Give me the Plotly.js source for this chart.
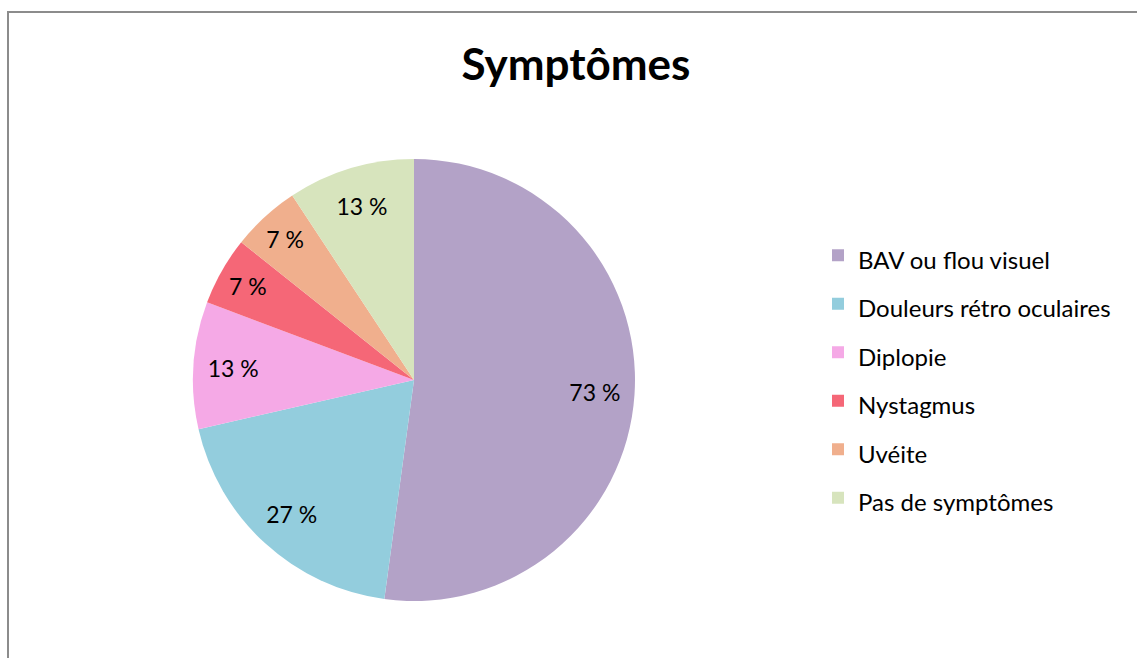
<!DOCTYPE html>
<html>
<head>
<meta charset="utf-8">
<script src="https://cdn.plot.ly/plotly-3.0.1.min.js"></script>
<style>
html,body{margin:0;padding:0;overflow:hidden;background:#fff;}
#chart{position:absolute;left:0;top:0;width:1137px;height:658px;}
#frame{position:absolute;left:7px;top:11px;width:1200px;height:700px;border:2px solid #8c8c8c;box-sizing:border-box;pointer-events:none;}
</style>
</head>
<body>
<div id="chart"></div>
<div id="frame"></div>
<script>
const labels = ["BAV ou flou visuel", "Douleurs rétro oculaires", "Diplopie", "Nystagmus", "Uvéite", "Pas de symptômes"];
const values = [73, 27, 13, 7, 7, 13];
const colors = ["#B3A2C7", "#93CDDD", "#F5A9E6", "#F56777", "#F0AF8D", "#D7E4BD"];
const valueTexts = values.map(v => v + " %");

const FONT = "Lato, 'Open Sans', sans-serif";
const legendLabels = labels.map(l => '<span style="font-size:24px">' + l + '</span>');
const pieDomain = {x: [193/1137, 635/1137], y: [1 - 601/658, 1 - 159/658]};

const slices = {
  type: "pie",
  labels: legendLabels,
  values: values,
  textinfo: "none",
  sort: false,
  direction: "clockwise",
  rotation: 0,
  marker: {colors: colors, line: {width: 0}},
  domain: pieDomain,
  hoverinfo: "label+value"
};

// transparent ring carrying the value labels at ~0.83 R, like the original
const labelRing = {
  type: "pie",
  labels: legendLabels,
  values: values,
  text: valueTexts,
  textinfo: "text",
  textposition: "inside",
  insidetextorientation: "horizontal",
  insidetextfont: {family: FONT, size: 23, color: "#000"},
  hole: 0.64,
  sort: false,
  direction: "clockwise",
  rotation: 0,
  showlegend: false,
  marker: {colors: values.map(() => "rgba(0,0,0,0)"), line: {width: 0}},
  domain: pieDomain,
  hoverinfo: "skip"
};

const layout = {
  width: 1137, height: 658,
  margin: {l: 0, r: 0, t: 0, b: 0},
  paper_bgcolor: "#fff",
  font: {family: FONT, color: "#000"},
  title: {text: "<b>Symptômes</b>", font: {family: FONT, size: 44, color: "#000"}, x: 576/1137, xanchor: "center", y: 1 - 65/658, yanchor: "middle"},
  showlegend: true,
  legend: {
    x: 818/1137, xanchor: "left", y: 1 - 226/658, yanchor: "top",
    font: {family: FONT, size: 35, color: "#000"},
    bgcolor: "rgba(0,0,0,0)"
  }
};

Plotly.newPlot("chart", [slices, labelRing], layout, {displayModeBar: false, staticPlot: true});
</script>
</body>
</html>
